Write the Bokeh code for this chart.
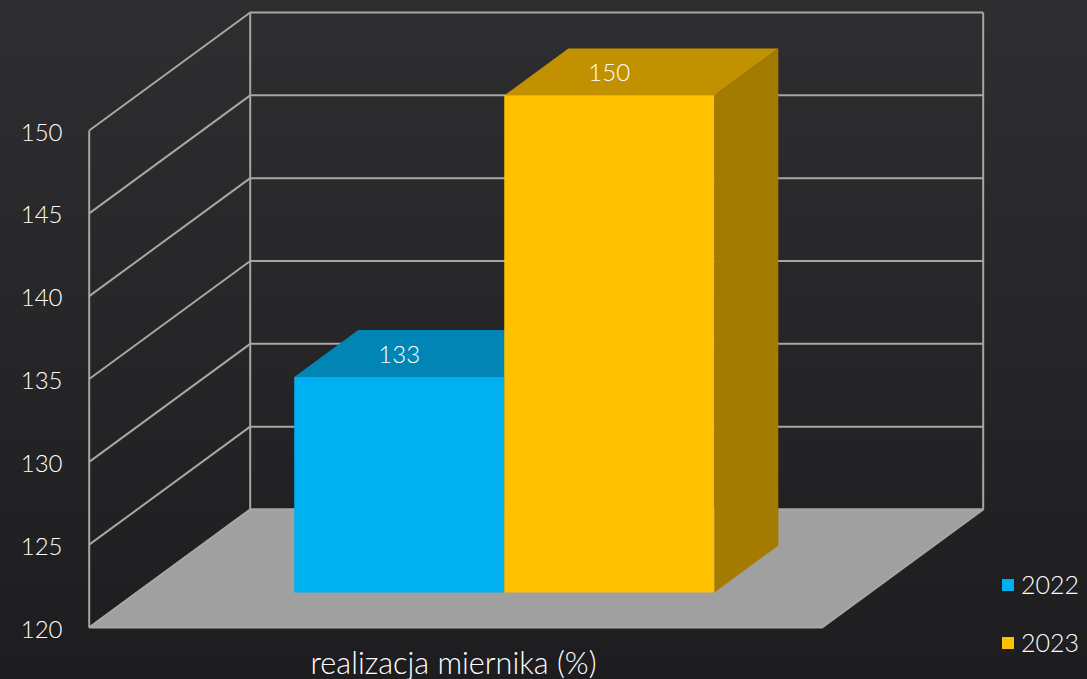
from bokeh.embed import file_html
from bokeh.resources import INLINE
from bokeh.plotting import figure
from bokeh.core.properties import value
from bokeh.models import (ColumnDataSource, FixedTicker, Legend, LegendItem, LinearAxis,
                          Range1d)

# ---- data ----
category = "realizacja miernika (%)"
series = ["2022", "2023"]
values = [133, 150]
ticks = [120, 125, 130, 135, 140, 145, 150]

# ---- colours ----
front_colors = ["#00B0F0", "#FFC000"]
top_colors = ["#0085B5", "#C19100"]
side_colors = ["#00668C", "#A37B00"]
floor_color = "#A0A0A0"
line_color = "#A6A6A6"
FONT = "Lato Light"

# ---- layout (page pixels) ----
W, H = 1071, 675
PAGE_L, PAGE_T = 8, 8
FRAME_L, FRAME_R, FRAME_T, FRAME_B = 70, 1079, 8, 661
X0_PX, X1_PX = 88.7, 821.7      # floor front edge
Y120_PX, Y150_PX = 627, 130     # front plane value positions
UX = X1_PX - X0_PX
UY = (Y120_PX - Y150_PX) / (ticks[-1] - ticks[0])
DX = 161 / UX                   # depth shift in x units
DY = 118 / UY                   # depth shift in value units
BAR_W = 0.2865                  # bar width in x units
BAR_L = 0.2145                  # first bar start
D0, D1 = 0.297, 0.695           # bar depth span


def P(x, d, v):
    return x + d * DX, v + d * DY


def poly(points):
    xs, ys = zip(*[P(*pt) for pt in points])
    return list(xs), list(ys)


vmin, vmax = ticks[0], ticks[-1]
y0 = vmin - (FRAME_B - Y120_PX) / UY
y1 = vmax + (Y150_PX - FRAME_T) / UY

p = figure(
    width=W, height=H, output_backend="svg", toolbar_location=None,
    x_range=Range1d((FRAME_L - X0_PX) / UX, (FRAME_R - X0_PX) / UX),
    y_range=Range1d(y0, y1),
    x_axis_location=None, y_axis_location=None,
    min_border_left=FRAME_L - PAGE_L, min_border_right=0,
    min_border_top=FRAME_T - PAGE_T, min_border_bottom=H + PAGE_T - FRAME_B,
    background_fill_color=None, border_fill_color=None, outline_line_color=None,
)
p.grid.visible = False
p.extra_y_ranges = {"labels": Range1d(y0 + 1.5 / UY, y1 + 1.5 / UY)}

# axes
yax = LinearAxis(ticker=FixedTicker(ticks=ticks), y_range_name="labels", axis_line_color=None,
                 major_tick_line_color=None, minor_tick_line_color=None,
                 major_label_text_font=FONT, major_label_text_font_size="24px",
                 major_label_text_color="#FFFFFF", major_label_standoff=2)
p.add_layout(yax, "left")
xax = LinearAxis(ticker=FixedTicker(ticks=[0.497]), axis_line_color=None,
                 major_tick_line_color=None, minor_tick_line_color=None,
                 major_label_overrides={0.497: category},
                 major_label_text_font=FONT, major_label_text_font_size="30.6px",
                 major_label_text_color="#FFFFFF", major_label_standoff=-24)
p.add_layout(xax, "below")

# floor
fx, fy = poly([(0, 0, vmin), (0, 1, vmin), (1, 1, vmin), (1, 0, vmin)])
p.patch(fx, fy, fill_color=floor_color, line_color=line_color, line_width=2)

# walls and gridlines
for t in ticks:
    xs, ys = poly([(0, 0, t), (0, 1, t), (1, 1, t)])
    p.line(xs, ys, line_color=line_color, line_width=2)
for (x, d) in [(0, 0), (0, 1), (1, 1)]:
    xs, ys = poly([(x, d, vmin), (x, d, vmax)])
    p.line(xs, ys, line_color=line_color, line_width=2)

# bars
fronts = []
for i, (v, fc, tc, sc) in enumerate(zip(values, front_colors, top_colors, side_colors)):
    xl = BAR_L + i * BAR_W
    xr = xl + BAR_W
    xs, ys = poly([(xr, D0, vmin), (xr, D1, vmin), (xr, D1, v), (xr, D0, v)])
    p.patch(xs, ys, fill_color=sc, line_color=None)
    xs, ys = poly([(xl, D0, v), (xl, D1, v), (xr, D1, v), (xr, D0, v)])
    p.patch(xs, ys, fill_color=tc, line_color=None)
    xs, ys = poly([(xl, D0, vmin), (xr, D0, vmin), (xr, D0, v), (xl, D0, v)])
    fronts.append(p.patch(xs, ys, fill_color=fc, line_color=None))

# value labels
lx = [P(BAR_L + (i + 0.5) * BAR_W, D0, 0)[0] for i in range(len(values))]
ly = [P(0, D0, v)[1] + 23 / UY for v in values]
src = ColumnDataSource(dict(x=lx, y=ly, t=[str(v) for v in values]))
p.text("x", "y", text="t", source=src, text_color="#FFFFFF", text_font=value(FONT),
       text_font_size="24px", text_align="center", text_baseline="middle")

# legend
legend = Legend(
    items=[LegendItem(label=s, renderers=[r]) for s, r in zip(series, fronts)],
    location=(1000 - FRAME_L, 4), orientation="vertical",
    background_fill_alpha=0, border_line_color=None, margin=0, padding=0,
    spacing=28, glyph_width=15, glyph_height=15, label_standoff=6,
    label_text_font=FONT, label_text_font_size="25px", label_text_color="#FFFFFF",
)
p.add_layout(legend, "center")

html = file_html(p, INLINE)
css = ("<style>html{height:100%;overflow:hidden;"
       "background:linear-gradient(180deg,#2E2E30 0%,#252527 55%,#1D1D1F 100%);}"
       "body{margin:8px 8px 0 8px;background:transparent;}</style>")
html = html.replace("</head>", css + "</head>", 1)
open("out.html", "w").write(html)
